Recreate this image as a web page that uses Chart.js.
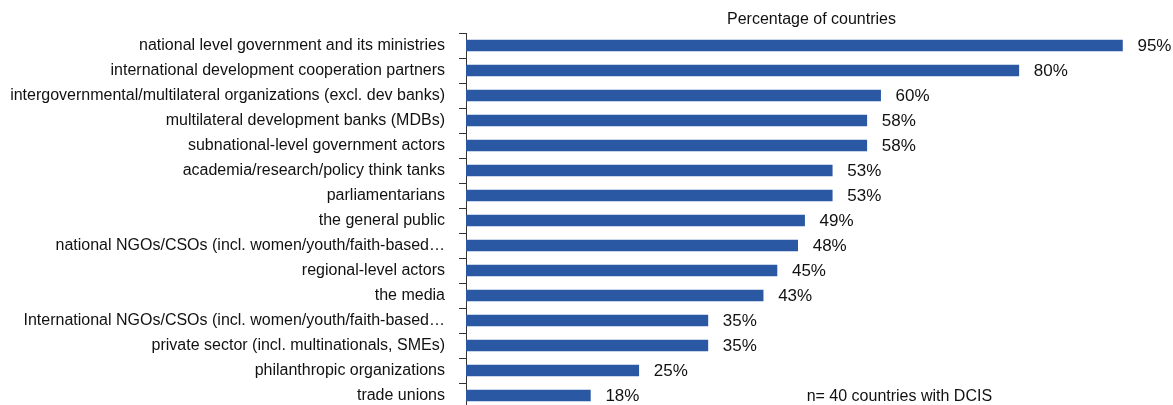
<!DOCTYPE html>
<html>
<head>
<meta charset="utf-8">
<script src="https://cdn.jsdelivr.net/npm/chart.js@4"></script>
<style>
  html, body { margin: 0; padding: 0; overflow: hidden; background: #fff; }
  canvas { display: block; }
</style>
</head>
<body>
<canvas id="myChart" width="1173" height="410"></canvas>
<script>
const categories = [
  "national level government and its ministries",
  "international development cooperation partners",
  "intergovernmental/multilateral organizations (excl. dev banks)",
  "multilateral development banks (MDBs)",
  "subnational-level government actors",
  "academia/research/policy think tanks",
  "parliamentarians",
  "the general public",
  "national NGOs/CSOs (incl. women/youth/faith-based\u2026",
  "regional-level actors",
  "the media",
  "International NGOs/CSOs (incl. women/youth/faith-based\u2026",
  "private sector (incl. multinationals, SMEs)",
  "philanthropic organizations",
  "trade unions"
];
const values = [95, 80, 60, 58, 58, 53, 53, 49, 48, 45, 43, 35, 35, 25, 18];
const axisTitle = "Percentage of countries";
const note = "n= 40 countries with DCIS";

const FONT = "'Liberation Sans', Arial, Helvetica, sans-serif";

// draws the % labels after each bar and the sample-size note
const valueLabels = {
  id: "valueLabels",
  afterDatasetsDraw(chart) {
    const ctx = chart.ctx;
    const meta = chart.getDatasetMeta(0);
    ctx.save();
    ctx.fillStyle = "#111";
    ctx.font = "17px " + FONT;
    ctx.textBaseline = "middle";
    ctx.textAlign = "left";
    meta.data.forEach((bar, i) => {
      ctx.fillText(values[i] + "%", bar.x + 15, bar.y + 1);
    });
    const x = chart.scales.x;
    const y = chart.scales.y;
    ctx.font = "16px " + FONT;
    ctx.fillText(note, x.getPixelForValue(49.3), y.getPixelForValue(categories.length - 1) + 1);
    ctx.restore();
  }
};

const ctx = document.getElementById("myChart");
const myChart = new Chart(ctx, {
  type: "bar",
  data: {
    labels: categories,
    datasets: [
      {
        data: values,
        backgroundColor: "#2B58A3",
        barThickness: 11,
      },
    ],
  },
  options: {
    indexAxis: "y",
    responsive: false,
    animation: false,
    layout: { padding: { left: 0, right: 16, top: 0, bottom: 2 } },
    plugins: {
      legend: { display: false },
      tooltip: { enabled: false },
    },
    scales: {
      x: {
        position: "top",
        min: 0,
        max: 100,
        grid: { display: false },
        border: { display: false },
        ticks: { display: false },
        title: {
          display: true,
          text: axisTitle,
          color: "#111",
          font: { family: FONT, size: 16 },
          padding: { top: 10, bottom: 0 },
        },
        afterFit(scale) { scale.height = 33; },
      },
      y: {
        offset: true,
        grid: {
          display: true,
          offset: true,
          drawOnChartArea: false,
          drawTicks: true,
          tickLength: 7,
          color: "#333",
          lineWidth: 1,
        },
        border: { display: true, color: "#333", width: 1 },
        ticks: {
          color: "#111",
          padding: 14,
          autoSkip: false,
          font: { family: FONT, size: 16 },
        },
        afterFit(scale) {
          scale.width = 466;
          scale.paddingTop = 0;
          scale.paddingBottom = 0;
        },
      },
    },
  },
  plugins: [valueLabels],
});
</script>
</body>
</html>
